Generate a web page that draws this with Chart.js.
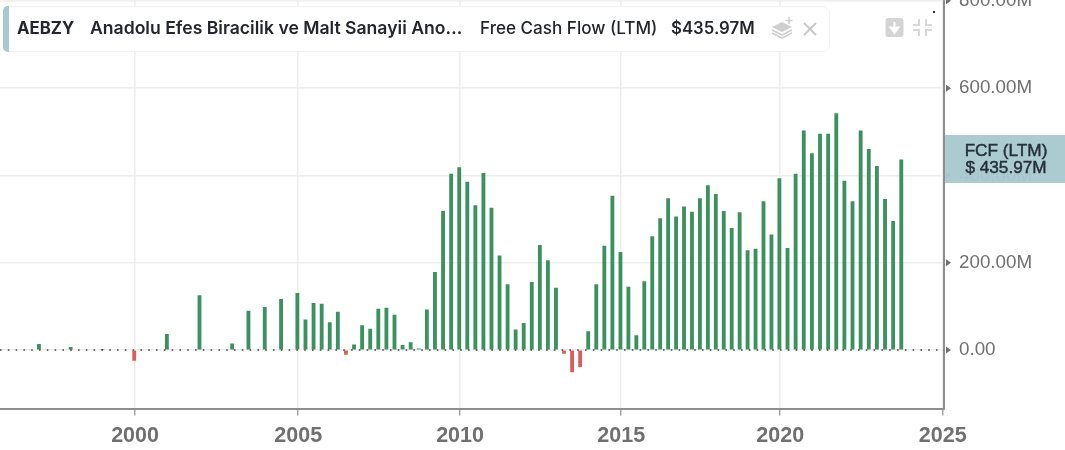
<!DOCTYPE html>
<html><head><meta charset="utf-8">
<script src="https://cdn.jsdelivr.net/npm/chart.js@4"></script>
<style>
html,body{margin:0;padding:0;background:#fff;overflow:hidden}
#wrap{position:relative;width:1065px;height:450px}
canvas{position:absolute;left:0;top:0}
#card{position:absolute;left:3px;top:6px;width:827px;height:46px;box-sizing:border-box;background:#fff;border:1px solid #f1f1f1;border-radius:7px;font:500 17.1px Inter,sans-serif;color:#23262d}
#card i{position:absolute;left:-1px;top:-1px;width:6px;height:46px;background:#a8c9ce;border-radius:5px 0 0 5px}
#card span{position:absolute;top:11px;white-space:nowrap;line-height:20px}
#badge{position:absolute;left:948px;top:135px;width:117px;height:48px;background:rgba(168,201,206,.96);color:#23303a;font:500 17.2px "Liberation Sans",sans-serif;text-align:center;line-height:17px;padding-top:7px;padding-right:1px;box-sizing:border-box;-webkit-text-stroke:.45px #23303a}
#badgeEdge{position:absolute;left:945px;top:135px;width:3px;height:48px;background:rgba(168,201,206,.96)}
svg{position:absolute}
</style></head><body>
<div id="wrap"><canvas id="c" width="1065" height="450"></canvas>
<div id="card"><i></i>
<span style="left:13px;font-weight:700;font-size:16.8px">AEBZY</span>
<span style="left:86px;font-weight:600;font-size:17.6px">Anadolu Efes Biracilik ve Malt Sanayii Ano…</span>
<span style="left:476px">Free Cash Flow (LTM)</span>
<span style="left:667px;font-weight:600;font-size:16.8px">$435.97M</span></div>
<svg style="left:770px;top:14px" width="54" height="26" viewBox="0 0 54 26" fill="none">
<path d="M12 8 L22 13 L12 18 L2 13Z" fill="#cfcfcf"/><path d="M2 16 L12 21 L22 16 M2 19 L12 24 L22 19" stroke="#cfcfcf" stroke-width="1.6"/>
<path d="M19 3V10M15.5 6.5H22.5" stroke="#cfcfcf" stroke-width="1.6"/>
<path d="M34 9L46 21M46 9L34 21" stroke="#c9c9c9" stroke-width="2"/></svg>
<svg style="left:885px;top:17px" width="50" height="22" viewBox="0 0 50 22" fill="none">
<rect x="0.5" y="1" width="18" height="19" rx="3" fill="#d4d4d4"/><path d="M9.5 5V12M5.5 10.5H13.5L9.5 16Z" stroke="#fff" fill="#fff" stroke-width="2"/>
<path d="M34 2V8H28M41 2V8H47M34 19V13H28M41 19V13H47" stroke="#d8d8d8" stroke-width="2"/></svg>
<svg style="left:933px;top:11px" width="3" height="3"><rect width="2" height="2" fill="#333"/></svg>
<div id="badgeEdge"></div>
<div id="badge">FCF (LTM)<br>$ 435.97M</div>
</div>
<script>
const periods = [1997,1998,1999,2000,2001,2002,2003,2003.5,2004,2004.5,2005,
2005.25,2005.5,2005.75,2006,2006.25,2006.5,2006.75,2007,2007.25,2007.5,2007.75,
2008,2008.25,2008.5,2008.75,2009,2009.25,2009.5,2009.75,2010,2010.25,2010.5,2010.75,
2011,2011.25,2011.5,2011.75,2012,2012.25,2012.5,2012.75,2013,2013.25,2013.5,2013.75,
2014,2014.25,2014.5,2014.75,2015,2015.25,2015.5,2015.75,2016,2016.25,2016.5,2016.75,
2017,2017.25,2017.5,2017.75,2018,2018.25,2018.5,2018.75,2019,2019.25,2019.5,2019.75,
2020,2020.25,2020.5,2020.75,2021,2021.25,2021.5,2021.75,2022,2022.25,2022.5,2022.75,
2023,2023.25,2023.5,2023.75];
const fcfMillions = [13,6,1.5,-24,36,125,14,89,98,116,130,
69,107,105,63,87,-10,12,56,48,94,96,
80,11,17,3,92,178,318,403,418,385,331,405,
325,216,150,46,61,155,240,205,142,-8,-50,-38,
42,150,238,353,224,144,33,157,260,301,347,305,
328,316,347,377,357,318,279,315,228,231,340,264,
393,233,403,502,450,495,495,542,387,340,502,460,
421,345,295,435.97];
const xTickYears = [2000,2005,2010,2015,2020,2025];
const xTickAxisUnits = [2000,2005.05,2010.06,2015.05,2019.97,2025];
const warpYears = [1997,2000,2005,2010,2015,2020,2025];
const warpUnits = [1997.05,2000,2005.05,2010.06,2015.05,2019.97,2025];
const yTicks = [0,200,400,600,800];
const GREEN='#3d9160', RED='#d8605c';
const lag=0.025;
function warp(d){
  const t=warpYears,u=warpUnits;
  let i=0; while(i<t.length-2 && d>t[i+1]) i++;
  return u[i]+(d-t[i])*(u[i+1]-u[i])/(t[i+1]-t[i]);
}
const bars=periods.map((d,i)=>({x:warp(d)-lag,y:fcfMillions[i]}));
const X0=1995.82,X1=2025.04;
const tickMarks={id:'tickMarks',afterDraw(ch){
  const s=ch.scales.y,c=ch.ctx,x=s.left+2;
  c.save();c.fillStyle='#707070';
  yTicks.forEach(v=>{const p=s.getPixelForValue(v);c.beginPath();c.moveTo(x,p-3.5);c.lineTo(x+5,p);c.lineTo(x,p+3.5);c.closePath();c.fill();});
  c.restore();
}};
new Chart(document.getElementById('c'),{
  type:'bar',
  data:{datasets:[
    {type:'line',data:[{x:X0,y:0},{x:X1,y:0}],borderColor:'#444',borderWidth:1.4,borderDash:[1.6,6.2],pointRadius:0,order:0},
    {type:'bar',data:bars,barThickness:3.2,backgroundColor:bars.map(b=>b.y<0?RED:GREEN),order:1}
  ]},
  options:{
    responsive:false,animation:false,
    layout:{padding:0},
    plugins:{legend:{display:false},tooltip:{enabled:false}},
    scales:{
      x:{type:'linear',min:X0,max:X1,offset:false,
        afterBuildTicks(a){a.ticks=xTickAxisUnits.map(v=>({value:v}));},
        afterFit(a){a.height=41.5;a.paddingLeft=0;a.paddingRight=0;},
        grid:{offset:false,color:'#eeeeee',lineWidth:1.6,tickColor:'#777',tickWidth:1,tickLength:7,drawTicks:true},
        border:{color:'#8e8e8e',width:2},
        ticks:{autoSkip:false,maxRotation:0,padding:8,color:'#707070',font:{family:'Liberation Sans',size:21.5,weight:'bold'},
          callback(v){const i=xTickAxisUnits.indexOf(v);return i<0?'':String(xTickYears[i]);}}
      },
      y:{position:'right',min:-134,max:802,
        afterBuildTicks(a){a.ticks=yTicks.map(v=>({value:v}));},
        afterFit(a){a.width=121;a.paddingTop=0;a.paddingBottom=0;},
        grid:{color:'#eeeeee',lineWidth:1.6,drawTicks:false},
        border:{color:'#8e8e8e',width:2},
        ticks:{padding:15,color:'#707070',font:{family:'Liberation Sans',size:18.8},
          callback(v){return v===0?'0.00':v.toFixed(2)+'M';}}
      }
    }
  },
  plugins:[tickMarks]
});
</script></body></html>
